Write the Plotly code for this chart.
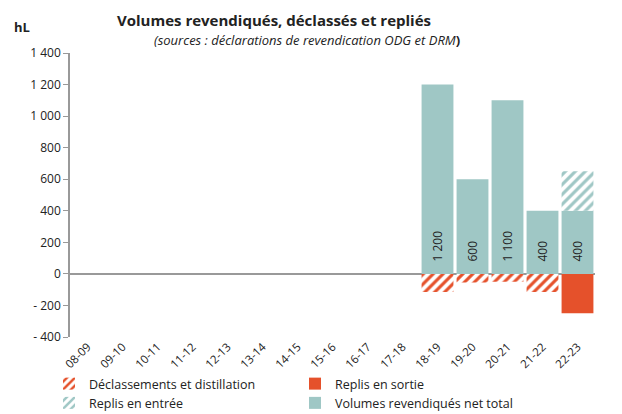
import plotly.graph_objects as go

categories = ["08-09", "09-10", "10-11", "11-12", "12-13", "13-14", "14-15", "15-16",
              "16-17", "17-18", "18-19", "19-20", "20-21", "21-22", "22-23"]
declassements = [None] * 10 + [-115, -55, -50, -115, None]
replis_sortie = [None] * 14 + [-250]
replis_entree = [None] * 14 + [250]
volumes = [None] * 10 + [1200, 600, 1100, 400, 400]

y_tickvals = [1400, 1200, 1000, 800, 600, 400, 200, 0, -200, -400]
y_ticktext = ["1 400", "1 200", "1 000", "800", "600", "400", "200", "0", "- 200", "- 400"]

TEAL = "#9FC7C5"
ORANGE = "#E5512B"
FONT = "Open Sans"

# page body has an 8px margin: figure drawn from (8, 8) in the window
OFF = 8
W, H = 622 - OFF, 414 - OFF
l, t = 70 - OFF, 53 - OFF
r = W - (595 - OFF)
b = H - (337 - OFF)
pw, ph = W - l - r, H - t - b


def px(x):
    return (x - OFF - l) / pw


def py(y):
    return (H - b - (y - OFF)) / ph


def fmt(v):
    return "" if v is None else "\u00a0\u00a0\u00a0" + f"{v:,}".replace(",", " ")


fig = go.Figure()
fig.add_trace(go.Bar(
    x=categories, y=declassements, name="Déclassements et distillation",
    marker=dict(color="white", line=dict(width=0),
                pattern=dict(shape="/", fgcolor=ORANGE, bgcolor="white", fgopacity=1,
                             size=7, solidity=0.45)),
    legendrank=1,
))
fig.add_trace(go.Bar(
    x=categories, y=replis_sortie, name="Replis en sortie",
    marker=dict(color=ORANGE, line=dict(width=0)),
    legendrank=2,
))
fig.add_trace(go.Bar(
    x=categories, y=volumes, name="Volumes revendiqués net total",
    marker=dict(color=TEAL, line=dict(width=0)),
    text=[fmt(v) for v in volumes], textposition="inside", insidetextanchor="start",
    textangle=-90, textfont=dict(family=FONT, size=12, color="#222"),
    legendrank=4,
))
fig.add_trace(go.Bar(
    x=categories, y=replis_entree, name="Replis en entrée",
    marker=dict(color="white", line=dict(width=0),
                pattern=dict(shape="/", fgcolor=TEAL, bgcolor="white", fgopacity=1,
                             size=7, solidity=0.45)),
    legendrank=3,
))

fig.update_layout(
    width=W, height=H,
    margin=dict(l=l, r=r, t=t, b=b, autoexpand=False),
    paper_bgcolor="white", plot_bgcolor="white",
    barmode="relative", bargap=0.09,
    font=dict(family=FONT, size=12, color="#222"),
    showlegend=True,
    legend=dict(orientation="h", x=px(49), xanchor="left", y=py(369), yanchor="top",
                entrywidth=201, entrywidthmode="pixels", traceorder="normal",
                font=dict(family=FONT, size=12.5, color="#222"),
                itemwidth=30, tracegroupgap=0, bgcolor="rgba(0,0,0,0)"),
    xaxis=dict(type="category", tickangle=-45, showline=False, ticks="",
               tickfont=dict(size=11.5), showgrid=False, automargin=False),
    yaxis=dict(range=[-400, 1400], tickvals=y_tickvals, ticktext=y_ticktext,
               showgrid=False, showline=True, linecolor="#999", linewidth=1.5,
               ticks="outside", ticklen=5, tickcolor="#999",
               zeroline=True, zerolinecolor="#999", zerolinewidth=1.5,
               tickfont=dict(size=12), automargin=False),
    annotations=[
        dict(text="<b>Volumes revendiqués, déclassés et repliés</b>",
             xref="paper", yref="paper", x=px(274), y=py(20),
             xanchor="center", yanchor="middle", showarrow=False, font=dict(size=15)),
        dict(text="<i>(sources : déclarations de revendication ODG et DRM</i><b>)</b>",
             xref="paper", yref="paper", x=px(307), y=py(40),
             xanchor="center", yanchor="middle", showarrow=False, font=dict(size=13)),
        dict(text="<b>hL</b>", xref="paper", yref="paper", x=px(12), y=py(27),
             xanchor="left", yanchor="middle", showarrow=False, font=dict(size=13)),
    ],
)

fig.write_html("out.html")
